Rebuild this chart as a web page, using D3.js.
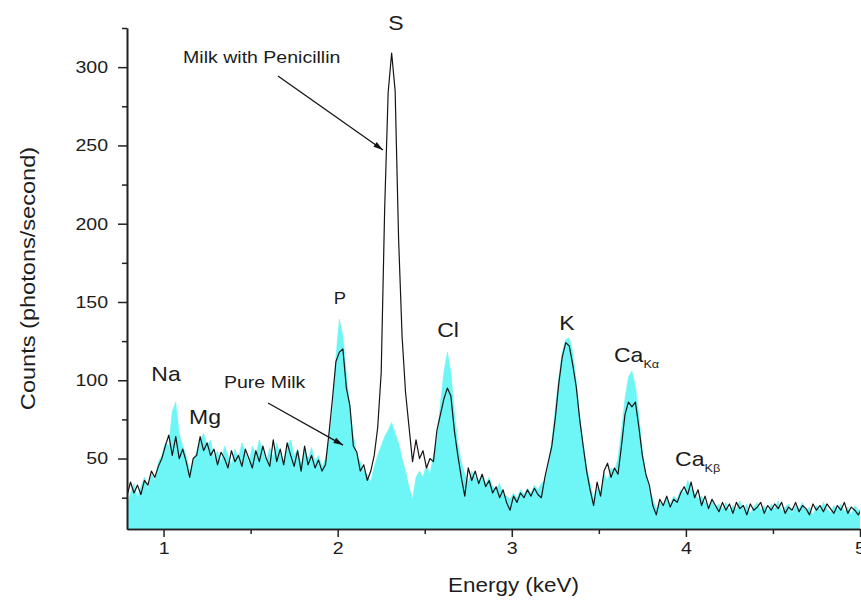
<!DOCTYPE html>
<html>
<head>
<meta charset="utf-8">
<script src="https://cdn.jsdelivr.net/npm/d3@7"></script>
<style>
  body { margin: 0; background: #fff; }
  text { font-family: "Liberation Sans", Arial, Helvetica, sans-serif; fill: #1c1c1c; }
</style>
</head>
<body>
<svg id="chart" width="861" height="606"></svg>
<script>
// Spectrum channel grid (keV)
const energyStart = 0.79;
const energyStep = 0.02;

// Counts (photons/second), pure milk
const pureMilk = [
  20,28,34,25,32,38,30,40,36,48,
  52,60,58,80,86,66,58,52,42,48,
  55,62,66,58,62,50,55,48,58,52,
  46,56,50,60,54,47,58,52,62,55,
  48,57,50,60,53,48,58,62,52,56,
  46,55,50,57,48,52,45,50,62,80,
  115,139,128,105,82,65,52,48,42,40,
  35,45,52,58,64,68,73,66,60,50,
  42,32,24,38,42,38,46,40,52,62,
  85,105,118,105,80,60,48,40,35,42,
  38,36,40,34,38,32,30,34,28,26,
  24,28,25,30,27,31,28,33,30,34,
  36,45,62,82,102,118,126,127,118,100,
  78,60,45,34,24,32,28,40,36,44,
  42,50,68,88,102,106,96,78,55,40,
  30,24,18,22,20,25,21,26,24,30,
  28,36,31,28,24,26,22,20,23,19,
  21,18,22,16,20,18,23,17,21,15,
  19,22,17,20,16,21,18,23,16,19,
  21,15,20,18,22,16,19,14,20,17,
  22,18,15,20,17,21,16,19,14,20,
  17,18
];

// Counts (photons/second), milk with penicillin
const milkPenicillin = [
  26,35,28,33,27,36,33,42,38,45,
  50,58,65,52,64,50,56,48,38,50,
  52,64,55,60,52,56,46,54,50,44,
  55,48,52,45,56,50,44,55,48,58,
  50,45,62,48,56,46,60,52,45,55,
  42,58,46,52,44,49,42,46,66,88,
  112,118,120,95,84,58,54,42,46,36,
  42,52,70,105,210,284,309,285,190,128,
  92,70,48,62,50,55,44,50,48,68,
  78,88,95,90,68,52,38,26,44,36,
  42,34,40,32,36,28,32,25,30,22,
  17,26,22,28,25,30,26,31,27,25,
  38,48,58,76,98,115,124,122,110,96,
  75,58,42,30,20,35,26,42,47,38,
  44,40,58,78,86,83,86,70,52,40,
  33,20,14,24,20,26,19,24,22,28,
  32,27,35,25,30,20,26,18,24,20,
  16,22,17,21,15,22,18,20,14,21,
  17,19,22,15,20,17,21,18,22,15,
  19,17,22,16,20,18,14,21,17,20,
  16,21,18,15,20,17,22,15,19,17,
  14,18
];

// Axis ticks
const xTicks = [1, 2, 3, 4, 5];
const xMinorTicks = [1.5, 2.5, 3.5, 4.5];
const yTicks = [50, 100, 150, 200, 250, 300];
const yMinorTicks = [25, 75, 125, 175, 225, 275, 325];

// Element labels: [text, subscript, energy, counts, anchor, size]
const peakLabels = [
  ["S",  "",   2.335, 323.7, "middle", 20],
  ["P",  "",   2.013, 148.7, "middle", 16],
  ["Cl", "",   2.634, 127.6, "middle", 20],
  ["K",  "",   3.317, 132.1, "middle", 20],
  ["Ca", "K\u03b1", 3.587, 111.7, "start", 20],
  ["Ca", "K\u03b2", 3.938, 45.2, "start", 20],
  ["Na", "",   1.014, 99.5,  "middle", 20],
  ["Mg", "",   1.238, 72.0,  "middle", 20]
];

// Series callouts: [text, label energy, label counts, arrow from (e,c), arrow to (e,c)]
const seriesCallouts = [
  ["Milk with Penicillin", 1.112, 302.6, 1.657, 294.3, 2.260, 247.1],
  ["Pure Milk",            1.347, 95.0,  1.600, 85.5,  2.031, 58.6]
];

const width = 861, height = 606;
const margin = { left: 127, right: 1, top: 28, bottom: 77 };
const stretch = 1.15;

const svg = d3.select("#chart");

const energies = pureMilk.map((_, i) => +(energyStart + i * energyStep).toFixed(2));

const x = d3.scaleLinear().domain([0.79, 5.0]).range([margin.left, width - margin.right]);
const y = d3.scaleLinear().domain([5, 325]).range([height - margin.bottom, margin.top]);

svg.append("defs").append("clipPath").attr("id", "plot-clip")
  .append("rect")
  .attr("x", x(0.79)).attr("y", 0)
  .attr("width", x(5.0) - x(0.79)).attr("height", y(5));

const plot = svg.append("g").attr("clip-path", "url(#plot-clip)");

const pureData = energies.map((e, i) => ({ e, v: pureMilk[i] }));
const penData = energies.map((e, i) => ({ e, v: milkPenicillin[i] }));

const area = d3.area()
  .x(d => x(d.e))
  .y0(y(5))
  .y1(d => y(d.v));

plot.append("path")
  .datum(pureData)
  .attr("d", area)
  .attr("fill", "#6ef5f5")
  .attr("stroke", "#6ef5f5")
  .attr("stroke-width", 0.6);

const line = d3.line()
  .x(d => x(d.e))
  .y(d => y(d.v));

plot.append("path")
  .datum(penData)
  .attr("d", line)
  .attr("fill", "none")
  .attr("stroke", "#151515")
  .attr("stroke-width", 1.2)
  .attr("stroke-linejoin", "round");

// Axes
function styleAxis(g) {
  g.selectAll("path.domain").attr("stroke", "#222").attr("stroke-width", 1.6);
  g.selectAll(".tick line").attr("stroke", "#222").attr("stroke-width", 1.5);
  g.selectAll(".tick text").style("font-size", "17px").attr("fill", "#1c1c1c");
}

const xAxis = svg.append("g")
  .attr("transform", `translate(0,${y(5)})`)
  .call(d3.axisBottom(x).tickValues(xTicks).tickFormat(d3.format("d"))
    .tickSize(8).tickSizeOuter(0).tickPadding(5));
styleAxis(xAxis);
xAxis.selectAll(".tick text").attr("transform", `scale(${stretch},1)`);

svg.append("g")
  .attr("transform", `translate(0,${y(5)})`)
  .call(d3.axisBottom(x).tickValues(xMinorTicks).tickFormat("").tickSize(5).tickSizeOuter(0))
  .call(styleAxis);

const yAxis = svg.append("g")
  .attr("transform", `translate(${x(0.79)},0)`)
  .call(d3.axisLeft(y).tickValues(yTicks).tickFormat(d3.format("d"))
    .tickSize(9).tickSizeOuter(0).tickPadding(10));
styleAxis(yAxis);
yAxis.selectAll(".tick text")
  .attr("x", -19 / stretch)
  .attr("transform", `scale(${stretch},1)`);

svg.append("g")
  .attr("transform", `translate(${x(0.79)},0)`)
  .call(d3.axisLeft(y).tickValues(yMinorTicks).tickFormat("").tickSize(5).tickSizeOuter(0))
  .call(styleAxis);

// Axis titles
svg.append("text")
  .attr("transform", `translate(${(x(0.79) + x(5.0)) / 2 + 20},${height - 14}) scale(${stretch},1)`)
  .attr("text-anchor", "middle")
  .style("font-size", "19.5px")
  .text("Energy (keV)");

svg.append("text")
  .attr("transform", `translate(35,${(y(5) + y(325)) / 2}) rotate(-90) scale(${stretch},1)`)
  .attr("text-anchor", "middle")
  .style("font-size", "20.5px")
  .text("Counts (photons/second)");

// Element labels
peakLabels.forEach(([name, sub, e, c, anchor, size]) => {
  const t = svg.append("text")
    .attr("transform", `translate(${x(e)},${y(c)}) scale(${stretch},1)`)
    .attr("text-anchor", anchor)
    .style("font-size", size + "px");
  t.append("tspan").text(name);
  if (sub) {
    t.append("tspan").attr("dy", 6).style("font-size", "11px").text(sub);
  }
});

// Callouts with arrows
svg.select("defs").append("marker")
  .attr("id", "arrow")
  .attr("viewBox", "0 -5 12 10")
  .attr("refX", 12).attr("refY", 0)
  .attr("markerWidth", 12).attr("markerHeight", 8)
  .attr("markerUnits", "userSpaceOnUse")
  .attr("orient", "auto")
  .append("path")
  .attr("d", "M0,-3.6L12,0L0,3.6Z")
  .attr("fill", "#151515");

seriesCallouts.forEach(([label, le, lc, e0, c0, e1, c1]) => {
  svg.append("text")
    .attr("transform", `translate(${x(le)},${y(lc)}) scale(${stretch},1)`)
    .attr("text-anchor", "start")
    .style("font-size", "17px")
    .text(label);
  svg.append("line")
    .attr("x1", x(e0)).attr("y1", y(c0))
    .attr("x2", x(e1)).attr("y2", y(c1))
    .attr("stroke", "#151515")
    .attr("stroke-width", 1.3)
    .attr("marker-end", "url(#arrow)");
});
</script>
</body>
</html>
